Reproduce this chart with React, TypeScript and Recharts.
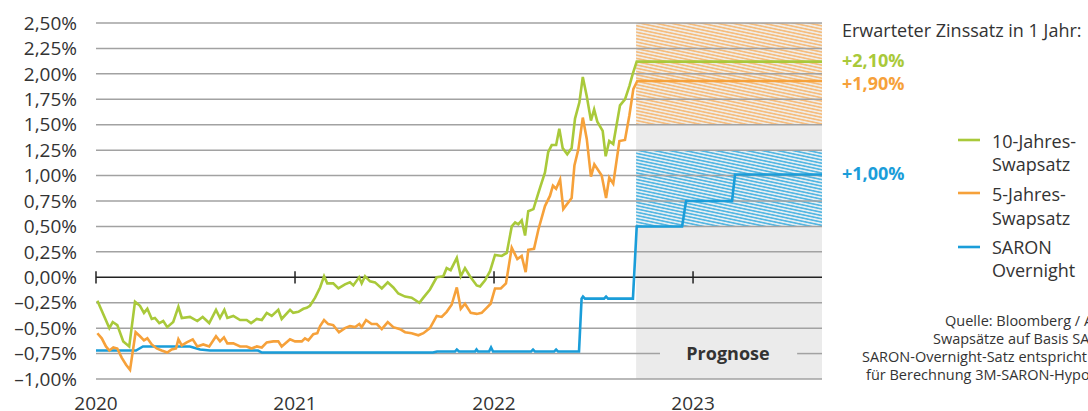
import React from "react";
import { LineChart, Line, XAxis, YAxis, ReferenceArea, ReferenceLine } from "recharts";

const FONT = "'Open Sans', 'Noto Sans', sans-serif";
const GREEN = "#a9c93a";
const ORANGE = "#f6a13a";
const BLUE = "#1a9dd9";
const TEXT = "#333333";
const GRID = "#a2a2a2";

const X_START = 2020;
const X_END = 2023.648;
const FORECAST_START = 2022.714;
const yearTicks = [2020, 2021, 2022, 2023];
const yTicks = [-1, -0.75, -0.5, -0.25, 0, 0.25, 0.5, 0.75, 1, 1.25, 1.5, 1.75, 2, 2.25, 2.5];

// 10-Jahres-Swapsatz
const tenYearDates = [
  2020.007, 2020.029, 2020.067, 2020.084, 2020.107, 2020.137, 2020.167, 2020.196, 2020.221, 2020.241,
  2020.258, 2020.28, 2020.296, 2020.318, 2020.338, 2020.358, 2020.388, 2020.414, 2020.431, 2020.472,
  2020.509, 2020.536, 2020.569, 2020.603, 2020.623, 2020.645, 2020.66, 2020.69, 2020.724, 2020.757,
  2020.779, 2020.808, 2020.833, 2020.858, 2020.883, 2020.916, 2020.933, 2020.975, 2020.991, 2021.017,
  2021.042, 2021.059, 2021.075, 2021.101, 2021.126, 2021.146, 2021.162, 2021.192, 2021.218, 2021.251,
  2021.276, 2021.293, 2021.322, 2021.335, 2021.352, 2021.377, 2021.402, 2021.436, 2021.466, 2021.494,
  2021.519, 2021.553, 2021.586, 2021.625, 2021.645, 2021.678, 2021.712, 2021.745, 2021.762, 2021.782,
  2021.813, 2021.833, 2021.854, 2021.879, 2021.913, 2021.93, 2021.955, 2021.98, 2022.005, 2022.039,
  2022.064, 2022.089, 2022.106, 2022.122, 2022.139, 2022.156, 2022.172, 2022.198, 2022.223, 2022.231,
  2022.256, 2022.272, 2022.29, 2022.312, 2022.328, 2022.345, 2022.368, 2022.39, 2022.407, 2022.429,
  2022.446, 2022.466, 2022.487, 2022.503, 2022.519, 2022.546, 2022.561, 2022.579, 2022.599, 2022.633,
  2022.658, 2022.68, 2022.697, 2022.717, 2023.648,
];
const tenYearValues = [
  -0.23, -0.33, -0.5, -0.44, -0.47, -0.63, -0.68, -0.24, -0.28, -0.35,
  -0.31, -0.41, -0.4, -0.45, -0.43, -0.49, -0.44, -0.29, -0.4, -0.39,
  -0.43, -0.39, -0.45, -0.32, -0.4, -0.32, -0.4, -0.38, -0.42, -0.42,
  -0.45, -0.41, -0.42, -0.35, -0.38, -0.32, -0.41, -0.32, -0.35, -0.34,
  -0.31, -0.3, -0.28, -0.2, -0.1, 0.01, -0.06, -0.06, -0.11, -0.07,
  -0.05, -0.08, 0.0, -0.06, 0.01, -0.04, -0.05, -0.11, -0.05, -0.1,
  -0.16, -0.19, -0.2, -0.25, -0.2, -0.12, 0.0, 0.01, 0.09, 0.07,
  0.19, 0.01, 0.09, 0.01, -0.08, -0.09, -0.03, 0.06, 0.22, 0.21,
  0.24, 0.5, 0.54, 0.52, 0.56, 0.41, 0.65, 0.67, 0.83, 0.88,
  1.03, 1.23, 1.3, 1.3, 1.46, 1.27, 1.21, 1.27, 1.56, 1.72,
  1.97, 1.78, 1.54, 1.65, 1.53, 1.44, 1.19, 1.34, 1.31, 1.69,
  1.75, 1.88, 2.0, 2.12, 2.12,
];

// 5-Jahres-Swapsatz
const fiveYearDates = [
  2020.007, 2020.029, 2020.05, 2020.067, 2020.087, 2020.107, 2020.129, 2020.151, 2020.171, 2020.199,
  2020.221, 2020.241, 2020.258, 2020.28, 2020.305, 2020.33, 2020.358, 2020.38, 2020.402, 2020.414,
  2020.431, 2020.456, 2020.486, 2020.509, 2020.539, 2020.569, 2020.603, 2020.623, 2020.643, 2020.66,
  2020.69, 2020.724, 2020.757, 2020.782, 2020.808, 2020.833, 2020.858, 2020.891, 2020.916, 2020.933,
  2020.975, 2021.0, 2021.034, 2021.05, 2021.067, 2021.092, 2021.112, 2021.126, 2021.146, 2021.167,
  2021.192, 2021.221, 2021.251, 2021.276, 2021.302, 2021.323, 2021.335, 2021.357, 2021.385, 2021.411,
  2021.436, 2021.466, 2021.494, 2021.528, 2021.553, 2021.586, 2021.62, 2021.645, 2021.678, 2021.712,
  2021.737, 2021.762, 2021.787, 2021.813, 2021.833, 2021.854, 2021.883, 2021.913, 2021.938, 2021.963,
  2021.983, 2022.005, 2022.034, 2022.06, 2022.089, 2022.117, 2022.139, 2022.159, 2022.172, 2022.201,
  2022.223, 2022.256, 2022.281, 2022.296, 2022.312, 2022.332, 2022.348, 2022.39, 2022.404, 2022.424,
  2022.446, 2022.466, 2022.487, 2022.504, 2022.541, 2022.563, 2022.579, 2022.599, 2022.63, 2022.658,
  2022.68, 2022.7, 2022.72, 2023.648,
];
const fiveYearValues = [
  -0.55, -0.6, -0.68, -0.72, -0.69, -0.7, -0.79, -0.86, -0.91, -0.54,
  -0.58, -0.62, -0.6, -0.66, -0.7, -0.72, -0.74, -0.71, -0.7, -0.61,
  -0.67, -0.64, -0.61, -0.68, -0.66, -0.68, -0.58, -0.63, -0.59, -0.65,
  -0.65, -0.68, -0.68, -0.7, -0.68, -0.69, -0.64, -0.63, -0.63, -0.68,
  -0.61, -0.63, -0.63, -0.6, -0.62, -0.56, -0.55, -0.48, -0.42, -0.46,
  -0.47, -0.54, -0.5, -0.48, -0.49, -0.46, -0.49, -0.42, -0.46, -0.46,
  -0.51, -0.44, -0.49, -0.51, -0.54, -0.55, -0.57, -0.55, -0.5, -0.38,
  -0.39, -0.34, -0.27, -0.1, -0.31, -0.26, -0.35, -0.36, -0.35, -0.3,
  -0.26, -0.11, -0.11, -0.06, 0.29, 0.18, 0.21, 0.05, 0.27, 0.28,
  0.47, 0.7, 0.8, 0.9, 0.87, 0.96, 0.67, 0.78, 1.1, 1.26,
  1.57, 1.36, 0.99, 1.11, 1.0, 0.78, 0.98, 0.92, 1.34, 1.35,
  1.59, 1.85, 1.93, 1.93,
];

// SARON Overnight
const saronDates = [
  2020.0, 2020.201, 2020.236, 2020.472, 2020.523, 2020.573, 2020.814, 2020.834, 2021.693, 2021.714,
  2021.804, 2021.813, 2021.824, 2021.905, 2021.912, 2021.92, 2021.975, 2021.985, 2021.995, 2022.186,
  2022.196, 2022.206, 2022.302, 2022.312, 2022.322, 2022.427, 2022.44, 2022.447, 2022.457, 2022.553,
  2022.563, 2022.573, 2022.698, 2022.717, 2022.945, 2022.965, 2023.196, 2023.211, 2023.648,
];
const saronValues = [
  -0.72, -0.72, -0.68, -0.68, -0.71, -0.72, -0.72, -0.74, -0.74, -0.73,
  -0.73, -0.71, -0.73, -0.73, -0.71, -0.73, -0.73, -0.69, -0.73, -0.73,
  -0.71, -0.73, -0.73, -0.71, -0.73, -0.73, -0.21, -0.19, -0.21, -0.21,
  -0.19, -0.21, -0.21, 0.5, 0.5, 0.75, 0.75, 1.01, 1.01,
];

const toRows = (dates: number[], values: number[]) => dates.map((t, i) => ({ t, v: values[i] }));
const tenYearData = toRows(tenYearDates, tenYearValues);
const fiveYearData = toRows(fiveYearDates, fiveYearValues);
const saronData = toRows(saronDates, saronValues);

const fmtPct = (v: number) => {
  const s = Math.abs(v).toFixed(2).replace(".", ",") + "%";
  return v < 0 ? "\u2013" + s : s;
};

const PROGNOSE_GAP_FROM = 2022.834;
const PROGNOSE_GAP_TO = 2023.523;

export default function App() {
  return (
    <div style={{ position: "absolute", left: 0, top: 0, width: 1088, height: 411, overflow: "hidden", fontFamily: FONT, background: "#fff" }}>
      <LineChart
        width={1088}
        height={411}
        margin={{ top: 23, right: 266, bottom: 0, left: 0 }}
      >
        <defs>
          <pattern id="hatchOrange" patternUnits="userSpaceOnUse" width="12" height="3.2" patternTransform="rotate(12)">
            <rect x="0" y="0" width="12" height="3.2" fill="#f0ece6" />
            <line x1="0" y1="1.6" x2="12" y2="1.6" stroke="#f7ad5c" strokeWidth="1.2" />
          </pattern>
          <pattern id="hatchBlue" patternUnits="userSpaceOnUse" width="12" height="3.2" patternTransform="rotate(12)">
            <rect x="0" y="0" width="12" height="3.2" fill="#e4eef3" />
            <line x1="0" y1="1.6" x2="12" y2="1.6" stroke="#25a5dd" strokeWidth="1.2" />
          </pattern>
        </defs>
        <XAxis
          type="number"
          dataKey="t"
          domain={[X_START, X_END]}
          ticks={yearTicks}
          allowDataOverflow
          axisLine={false}
          tickLine={false}
          tickSize={0}
          tickMargin={18}
          height={32}
          tick={{ fontSize: 19, fill: TEXT, fontFamily: FONT }}
          tickFormatter={(v: number) => String(v)}
        />
        <YAxis
          type="number"
          domain={[-1, 2.5]}
          ticks={yTicks}
          width={96}
          axisLine={false}
          tickLine={false}
          tickSize={0}
          tickMargin={19}
          interval={0}
          tick={{ fontSize: 19, fill: TEXT, fontFamily: FONT }}
          tickFormatter={fmtPct}
        />
        <ReferenceArea x1={FORECAST_START} x2={X_END} y1={-1} y2={2.5} fill="#ebebeb" fillOpacity={1} stroke="none" />
        <ReferenceArea x1={FORECAST_START} x2={X_END} y1={1.5} y2={2.5} fill="url(#hatchOrange)" fillOpacity={1} stroke="none" />
        <ReferenceArea x1={FORECAST_START} x2={X_END} y1={0.5} y2={1.25} fill="url(#hatchBlue)" fillOpacity={1} stroke="none" />
        {yTicks
          .filter((v) => v !== 0 && v !== -0.75)
          .map((v) => (
            <ReferenceLine key={"g" + v} y={v} stroke={GRID} strokeWidth={1.5} />
          ))}
        <ReferenceLine
          segment={[{ x: X_START, y: -0.75 }, { x: PROGNOSE_GAP_FROM, y: -0.75 }]}
          stroke={GRID}
          strokeWidth={1.5}
        />
        <ReferenceLine
          segment={[{ x: PROGNOSE_GAP_TO, y: -0.75 }, { x: X_END, y: -0.75 }]}
          stroke={GRID}
          strokeWidth={1.5}
        />
        <ReferenceLine y={0} stroke="#222" strokeWidth={1.5} />
        {yearTicks.map((yr) => (
          <ReferenceLine
            key={"t" + yr}
            segment={[{ x: yr, y: -0.06 }, { x: yr, y: 0.06 }]}
            stroke="#222"
            strokeWidth={1.5}
          />
        ))}
        <Line data={saronData} dataKey="v" type="linear" stroke={BLUE} strokeWidth={2.6} dot={false} isAnimationActive={false} />
        <Line data={fiveYearData} dataKey="v" type="linear" stroke={ORANGE} strokeWidth={2.6} dot={false} isAnimationActive={false} />
        <Line data={tenYearData} dataKey="v" type="linear" stroke={GREEN} strokeWidth={2.6} dot={false} isAnimationActive={false} />
      </LineChart>
      <svg width={1088} height={411} style={{ position: "absolute", left: 0, top: 0, pointerEvents: "none" }}>
        <text x={728} y={360} textAnchor="middle" fontSize={18} fontWeight={700} fill={TEXT} fontFamily={FONT}>
          Prognose
        </text>
        <text x={842} y={37} fontSize={18} fill={TEXT} fontFamily={FONT}>
          Erwarteter Zinssatz in 1 Jahr:
        </text>
        <text x={842} y={67} fontSize={18} fontWeight={700} fill={GREEN} fontFamily={FONT}>+2,10%</text>
        <text x={842} y={90} fontSize={18} fontWeight={700} fill={ORANGE} fontFamily={FONT}>+1,90%</text>
        <text x={842} y={180} fontSize={18} fontWeight={700} fill={BLUE} fontFamily={FONT}>+1,00%</text>

        <line x1={958} x2={980} y1={140} y2={140} stroke={GREEN} strokeWidth={2.6} />
        <line x1={958} x2={980} y1={193} y2={193} stroke={ORANGE} strokeWidth={2.6} />
        <line x1={958} x2={980} y1={247} y2={247} stroke={BLUE} strokeWidth={2.6} />
        <text x={992} y={148} fontSize={18} fill={TEXT} fontFamily={FONT}>10-Jahres-</text>
        <text x={992} y={171} fontSize={18} fill={TEXT} fontFamily={FONT}>Swapsatz</text>
        <text x={992} y={201} fontSize={18} fill={TEXT} fontFamily={FONT}>5-Jahres-</text>
        <text x={992} y={225} fontSize={18} fill={TEXT} fontFamily={FONT}>Swapsatz</text>
        <text x={992} y={254} fontSize={18} fill={TEXT} fontFamily={FONT}>SARON</text>
        <text x={992} y={277} fontSize={18} fill={TEXT} fontFamily={FONT}>Overnight</text>

        <text x={945} y={326} fontSize={14.5} fill={TEXT} fontFamily={FONT}>Quelle: Bloomberg / AKB</text>
        <text x={933} y={344} fontSize={14.5} fill={TEXT} fontFamily={FONT}>Swapsätze auf Basis SARON</text>
        <text x={862} y={362} fontSize={14.5} fill={TEXT} fontFamily={FONT}>SARON-Overnight-Satz entspricht Basis</text>
        <text x={866} y={380} fontSize={14.5} fill={TEXT} fontFamily={FONT}>für Berechnung 3M-SARON-Hypothek</text>
      </svg>
    </div>
  );
}
